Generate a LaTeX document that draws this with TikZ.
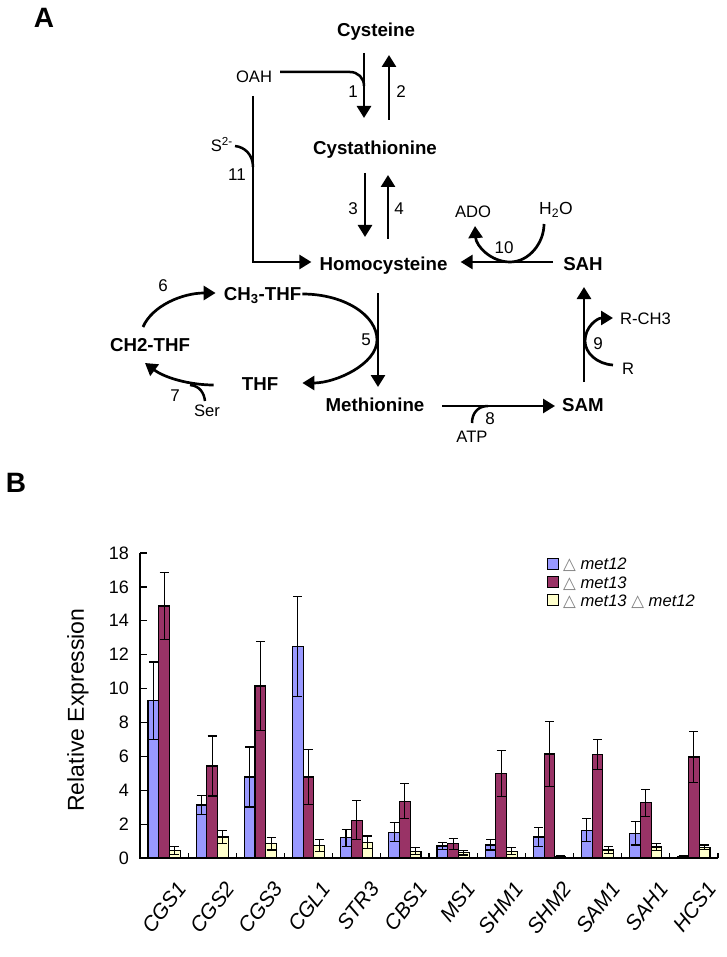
\documentclass[tikz,border=0pt]{standalone}
\usepackage{fontspec}
\setmainfont{Liberation Sans}
\newfontfamily\djv{DejaVu Sans}
\usetikzlibrary{arrows.meta}
\definecolor{cblue}{HTML}{9999FF}
\definecolor{cred}{HTML}{993366}
\definecolor{cyel}{HTML}{FFFFCC}
\newcommand\tri{{\djv\color{gray}△}}
\newcommand\mybar[4]{%
  \pgfmathsetmacro\myx{#1}%
  \pgfmathsetmacro\mytop{858-(#2)*16.944}%
  \pgfmathsetmacro\myhi{858-((#2)+(#3))*16.944}%
  \pgfmathsetmacro\mylo{858-((#2)-(#3))*16.944}%
  \pgfmathsetmacro\myc{\myx+5.35}%
  \filldraw[fill=#4,draw=black,line width=1.1pt] (\myx,858) rectangle ({\myx+10.7},\mytop);
  \draw[line width=1.1pt] (\myc,\mylo) -- (\myc,\myhi)
    ({\myc-4.5},\myhi) -- ({\myc+4.5},\myhi)
    ({\myc-4.5},\mylo) -- ({\myc+4.5},\mylo);
}
\begin{document}
\begin{tikzpicture}[x=1pt,y=-1pt,
 met/.style={font=\fontsize{18.7}{22}\selectfont\bfseries,inner sep=0pt,anchor=base},
 lbl/.style={font=\fontsize{16.6}{20}\selectfont,inner sep=0pt,anchor=base},
 num/.style={font=\fontsize{17}{20}\selectfont,inner sep=0pt,anchor=base},
 arr/.style={line width=2.7pt,-{Triangle[length=12pt,width=14pt]}},
 cur/.style={line width=2.5pt},
 tick/.style={font=\fontsize{18}{20}\selectfont,inner sep=0pt},
 xlab/.style={font=\fontsize{21}{24}\selectfont\itshape,rotate=52,anchor=east,inner sep=0pt},
 leg/.style={font=\fontsize{16.6}{20}\selectfont,inner sep=0pt,anchor=base west},
 ]
\fill[white] (0,0) rectangle (727,957);
\useasboundingbox (0,0) rectangle (727,957);

% panel labels
\node[font=\fontsize{28}{30}\selectfont\bfseries,inner sep=0pt,anchor=base] (pA) at (44,28) {A};
\node[font=\fontsize{28}{30}\selectfont\bfseries,inner sep=0pt,anchor=base] (pB) at (16,492) {B};

% metabolites
\node[met] (cys) at (376,36.7) {Cysteine};
\node[met] (cysta) at (375,155) {Cystathionine};
\node[met] (hcy) at (383.5,270) {Homocysteine};
\node[met] (sah) at (583,270) {SAH};
\node[met] (sam) at (583,411) {SAM};
\node[met] (meth) at (375,411) {Methionine};
\node[met] (ch3) at (262.5,300) {CH\textsubscript{3}-THF};
\node[met] (thf) at (260,390) {THF};
\node[met] (ch2) at (150,351) {CH2-THF};

% small labels
\node[lbl] (oah) at (254,82.6) {OAH};
\node[lbl,anchor=base east] (s2) at (233,152) {S\textsuperscript{2-}};
\node[lbl] (ado) at (473,218) {ADO};
\node[lbl,font=\fontsize{17.5}{20}\selectfont] (h2o) at (556,215) {H\textsubscript{2}O};
\node[lbl,anchor=base west] (rch3) at (620,324) {R-CH3};
\node[lbl,anchor=base west] (rr) at (622,374) {R};
\node[lbl] (atp) at (472,442.6) {ATP};
\node[lbl] (ser) at (207,416) {Ser};

% reaction numbers
\node[num] (n1) at (353,98) {1};
\node[num] (n2) at (401,98) {2};
\node[num] (n3) at (353,215) {3};
\node[num] (n4) at (399,215) {4};
\node[num] (n5) at (366,345) {5};
\node[num] (n6) at (163,291) {6};
\node[num] (n7) at (175,401) {7};
\node[num] (n8) at (490,424) {8};
\node[num] (n9) at (598,349) {9};
\node[num] (n10) at (504,254) {10};
\node[num] (n11) at (237,181) {11};

% junctions
\coordinate (j1) at (364,86);
\coordinate (j11) at (253,167);
\coordinate (j7) at (190,385);
\coordinate (j8) at (488,406);

% arrows 1-4
\draw[arr] ([shift={(-12,16.3)}]cys.base) -- ([shift={(-11,-37)}]cysta.base);
\draw[arr] ([shift={(14,-35)}]cysta.base) -- ([shift={(13,18.3)}]cys.base);
\draw[arr] ([shift={(-10,18)}]cysta.base) -- ([shift={(-18.5,-33)}]hcy.base);
\draw[arr] ([shift={(4.5,-31)}]hcy.base) -- ([shift={(13,20)}]cysta.base);
\draw[cur] ([shift={(26,-10.6)}]oah.base) -- (350,72) .. controls (358,72) and (364,78) .. (j1);

% reaction 11
\draw[arr] ([shift={(-1,13.4)}]oah.base) |- ([shift={(-8,-8)}]hcy.base west);
\draw[cur] ([shift={(2,-6)}]s2.base east) .. controls (245,147) and (253,155) .. (j11);

% reaction 10
\draw[arr] ([shift={(-10,-8)}]sah.base west) -- ([shift={(13,-8)}]hcy.base east);
\draw[arr] ([shift={(-12,9)}]h2o.base) .. controls (544,243) and (529,262) .. (510,262)
   .. controls (491,262) and (476,246) .. ([shift={(2,8)}]ado.base);

% reaction 5
\draw[arr] ([shift={(-5.5,23)}]hcy.base) -- ([shift={(3,-24)}]meth.base);
\draw[arr] ([shift={(1,-6)}]ch3.base east) .. controls (344,294) and (377,315) .. (377,340)
   .. controls (377,364) and (336,383) .. ([shift={(24,-7)}]thf.base east);

% reactions 6, 7
\draw[arr] ([shift={(-7,-24)}]ch2.base) .. controls (152,306) and (182,293) .. ([shift={(-8,-7)}]ch3.base west);
\draw[arr] ([shift={(-28,-5)}]thf.base west) .. controls (190,385) and (165,378) .. ([shift={(-5,12)}]ch2.base);
\draw[cur] ([shift={(-2,-15)}]ser.base) .. controls (204,393) and (200,386) .. (j7);

% reaction 8
\draw[arr] ([shift={(17.6,-5)}]meth.base east) -- ([shift={(-7,-5)}]sam.base west);
\draw[cur] ([shift={(0,-19.6)}]atp.base) .. controls (472,413) and (478,406) .. (j8);

% reaction 9
\draw[arr] ([shift={(1,-29)}]sam.base) -- ([shift={(1,17)}]sah.base);
\draw[arr] ([shift={(-9,-9)}]rr.base west) .. controls (597,364) and (585,353) .. (585,341)
   .. controls (585,327) and (597,318) .. ([shift={(-7,-6)}]rch3.base west);

% ---------------- chart ----------------
\foreach \vb/\eb/\vr/\er/\vy/\ey/\gn [count=\i from 0] in {
  9.27/2.3/14.87/2.0/0.45/0.25/CGS1,
  3.13/0.55/5.43/1.77/1.24/0.4/CGS2,
  4.78/1.77/10.15/2.65/0.85/0.38/CGS3,
  12.46/2.95/4.78/1.6/0.75/0.35/CGL1,
  1.2/0.5/2.24/1.15/0.94/0.36/STR3,
  1.53/0.55/3.36/1.05/0.41/0.2/CBS1,
  0.71/0.2/0.83/0.33/0.3/0.12/MS1,
  0.77/0.3/5.0/1.35/0.41/0.2/SHM1,
  1.24/0.55/6.14/1.9/0.1/0.04/SHM2,
  1.65/0.7/6.12/0.9/0.47/0.2/SAM1,
  1.47/0.7/3.25/0.78/0.65/0.22/SAH1,
  0.1/0.04/5.96/1.5/0.63/0.14/HCS1}{
  \pgfmathsetmacro\gl{140+48.17*\i}
  \mybar{\gl+8}{\vb}{\eb}{cblue}
  \mybar{\gl+18.7}{\vr}{\er}{cred}
  \mybar{\gl+29.4}{\vy}{\ey}{cyel}
  \node[xlab] (xl\i) at ({\gl+24.1+18},885) {\gn};
}
\draw[line width=1.2pt] (140,553) -- (140,858) -- (718,858);
\foreach \v in {0,2,...,18}{
  \pgfmathsetmacro\yy{858-\v*16.944}
  \draw[line width=1.2pt] (140,\yy) -- (147,\yy);
  \node[tick,anchor=east] (yt\v) at (129,\yy) {\v};
}
\foreach \k in {1,...,12}{
  \pgfmathsetmacro\xx{140+48.17*\k}
  \draw[line width=1.2pt] (\xx,853) -- (\xx,858);
}
\node[font=\fontsize{23}{25}\selectfont,rotate=90,inner sep=0pt] (ytitle) at (78,710) {Relative Expression};

% legend
\filldraw[fill=cblue,draw=black,line width=1pt] (547,558) rectangle (558,569);
\filldraw[fill=cred,draw=black,line width=1pt] (547,576) rectangle (558,587);
\filldraw[fill=cyel,draw=black,line width=1pt] (547,594) rectangle (558,605);
\node[leg] (lg1) at (563,569.5) {\tri\ \textit{met12}};
\node[leg] (lg2) at (563,588) {\tri\ \textit{met13}};
\node[leg] (lg3) at (563,606.5) {\tri\ \textit{met13}\ \tri\ \textit{met12}};
\end{tikzpicture}
\end{document}
